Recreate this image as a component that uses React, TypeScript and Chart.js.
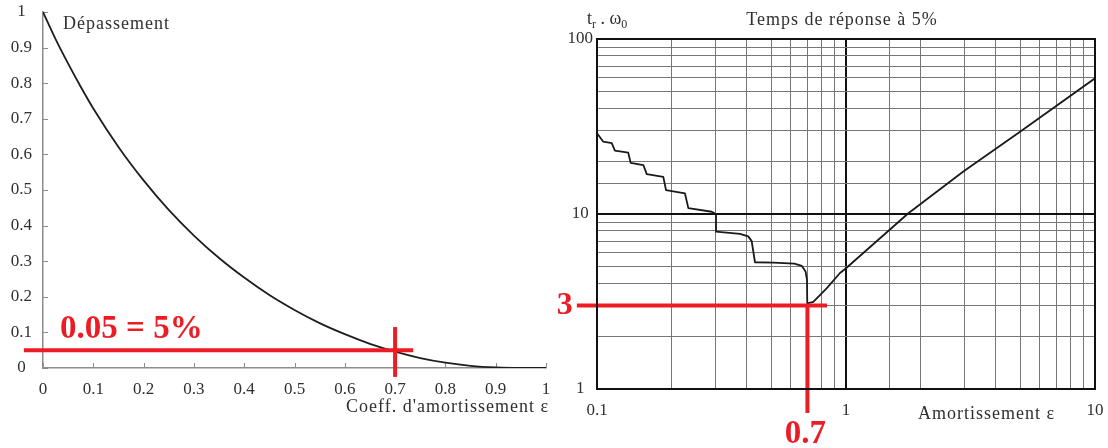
import React, { useEffect, useRef } from 'react';
import { Chart, registerables } from 'chart.js';

Chart.register(...registerables);

// ---------- Left chart: overshoot (Dépassement) vs damping ----------
const overshootDamping = [0, 0.025, 0.05, 0.075, 0.1, 0.15, 0.2, 0.25, 0.3, 0.35, 0.4, 0.45, 0.5, 0.55, 0.6, 0.65, 0.7, 0.75, 0.8, 0.85, 0.9, 0.95, 1];
const overshootValues = [1, 0.924, 0.855, 0.79, 0.729, 0.621, 0.527, 0.444, 0.372, 0.309, 0.254, 0.205, 0.163, 0.126, 0.095, 0.068, 0.046, 0.028, 0.015, 0.006, 0.0015, 0.0001, 0];
const leftTickValues = [0, 0.1, 0.2, 0.3, 0.4, 0.5, 0.6, 0.7, 0.8, 0.9, 1];

const overshootThreshold = 0.05;
const chosenDamping = 0.7;
const leftHLineX = [-0.038, 0.736];
const leftVLineY = [-0.025, 0.115];

// ---------- Right chart: response time at 5% vs damping (log-log) ----------
const responseDamping = [0.1, 0.106, 0.1146, 0.118, 0.1335, 0.1365, 0.1535, 0.1584, 0.1846, 0.1893, 0.2256, 0.2327, 0.289, 0.3006, 0.3006, 0.375, 0.405, 0.418, 0.431, 0.511, 0.62, 0.665, 0.688, 0.697, 0.699, 0.739, 0.836, 0.946, 1.0, 1.78, 2.96, 5.0, 10];
const responseTime = [28.9, 25.9, 25.4, 23.0, 22.4, 19.6, 19.05, 16.9, 16.3, 13.7, 13.1, 10.8, 10.3, 10.0, 7.93, 7.69, 7.45, 7.0, 5.3, 5.27, 5.2, 5.05, 4.7, 4.2, 3.09, 3.15, 3.76, 4.6, 4.9, 10.1, 17.5, 29.5, 59.6];
const rightXRange = [0.1, 10];
const rightYRange = [1, 100];

const chosenResponseTime = 3;
const rightHLineX = [0.083, 0.839];
const rightVLineY = [0.73, 3];

// ---------- texts ----------
const leftYTitle = 'Dépassement';
const leftXTitle = "Coeff. d'amortissement ε";
const rightTitle = 'Temps de réponse à 5%';
const rightXTitle = 'Amortissement ε';
const leftRedText = '0.05 = 5%';
const rightRedY = '3';
const rightRedX = '0.7';

const FONT = 'Liberation Serif';
const TEXT = '#303030';
const AXIS = '#8c8c8c';
const RED = '#ec1c24';

const fmt = (v: number) => String(Math.round(v * 10) / 10);
const isMajor = (v: number) => Math.abs(Math.log10(v) - Math.round(Math.log10(v))) < 1e-6;

function drawText(ctx: CanvasRenderingContext2D, txt: string, x: number, y: number, font: string, color: string, align: CanvasTextAlign, spacing = '1px') {
  ctx.save();
  ctx.font = font;
  ctx.fillStyle = color;
  ctx.textAlign = align;
  ctx.textBaseline = 'middle';
  (ctx as any).letterSpacing = spacing;
  ctx.fillText(txt, x, y);
  ctx.restore();
}

const noPadX = (h: number) => (s: any) => { s.height = h; s.paddingLeft = 0; s.paddingRight = 0; };
const noPadY = (w: number) => (s: any) => { s.width = w; s.paddingTop = 0; s.paddingBottom = 0; };

const leftDecor = {
  id: 'leftDecor',
  beforeDatasetsDraw(chart: any) {
    const { ctx, chartArea, scales } = chart;
    const { x, y } = scales;
    ctx.save();
    ctx.strokeStyle = AXIS;
    ctx.lineWidth = 1;
    ctx.beginPath();
    leftTickValues.forEach((v) => {
      const px = Math.round(x.getPixelForValue(v)) + 0.5;
      ctx.moveTo(px, chartArea.bottom);
      ctx.lineTo(px, chartArea.bottom - 5);
      const py = Math.round(y.getPixelForValue(v)) + 0.5;
      ctx.moveTo(chartArea.left, py);
      ctx.lineTo(chartArea.left + 5, py);
    });
    ctx.stroke();
    ctx.restore();
  },
  afterDraw(chart: any) {
    const { ctx, chartArea, scales } = chart;
    const { x, y } = scales;
    drawText(ctx, leftYTitle, chartArea.left + 20, 24, `18px "${FONT}"`, TEXT, 'left');
    drawText(ctx, leftXTitle, chartArea.right + 3, 407, `18px "${FONT}"`, TEXT, 'right');
    drawText(ctx, leftRedText, x.getPixelForValue(0.034), y.getPixelForValue(0.107), `bold 33px "${FONT}"`, RED, 'left', '0px');
  },
};

const rightDecor = {
  id: 'rightDecor',
  afterDatasetsDraw(chart: any) {
    const { ctx, chartArea, scales } = chart;
    const { x, y } = scales;
    ctx.save();
    ctx.strokeStyle = '#111';
    ctx.lineWidth = 2;
    ctx.strokeRect(chartArea.left, chartArea.top, chartArea.right - chartArea.left, chartArea.bottom - chartArea.top);
    ctx.restore();
    drawText(ctx, rightRedY, x.getPixelForValue(0.08), y.getPixelForValue(chosenResponseTime), `bold 32px "${FONT}"`, RED, 'right', '0px');
    drawText(ctx, rightRedX, x.getPixelForValue(chosenDamping) - 2, y.getPixelForValue(0.553), `bold 33px "${FONT}"`, RED, 'center', '0px');
  },
  afterDraw(chart: any) {
    const { ctx, chartArea } = chart;
    drawText(ctx, rightTitle, chartArea.left + 245, 20, `18px "${FONT}"`, TEXT, 'center');
    drawText(ctx, rightXTitle, chartArea.right - 177, 414, `18px "${FONT}"`, TEXT, 'left');
    // t_r . ω_0
    ctx.save();
    ctx.fillStyle = TEXT;
    ctx.textBaseline = 'alphabetic';
    ctx.textAlign = 'left';
    let cx = chartArea.left - 10;
    const base = 24;
    const big = `18px "${FONT}"`;
    const small = `12px "${FONT}"`;
    const parts: [string, string, number][] = [['t', big, 0], ['r', small, 4], [' . ', big, 0], ['ω', big, 0], ['0', small, 4]];
    parts.forEach(([t, f, dy]) => {
      ctx.font = f;
      ctx.fillText(t, cx, base + dy);
      cx += ctx.measureText(t).width;
    });
    ctx.restore();
  },
};

export default function App() {
  const leftRef = useRef<HTMLCanvasElement>(null);
  const rightRef = useRef<HTMLCanvasElement>(null);

  useEffect(() => {
    const tickFont = { family: FONT, size: 17 };

    const left = new Chart(leftRef.current!, {
      type: 'scatter',
      data: {
        datasets: [
          {
            data: overshootDamping.map((x, i) => ({ x, y: overshootValues[i] })),
            showLine: true,
            borderColor: '#1e1e1e',
            borderWidth: 1.8,
            pointRadius: 0,
            cubicInterpolationMode: 'monotone',
            order: 1,
          },
          {
            data: leftHLineX.map((x) => ({ x, y: overshootThreshold })),
            showLine: true,
            borderColor: RED,
            borderWidth: 4,
            pointRadius: 0,
            clip: false,
            order: 0,
          },
          {
            data: leftVLineY.map((y) => ({ x: chosenDamping, y })),
            showLine: true,
            borderColor: RED,
            borderWidth: 4,
            pointRadius: 0,
            clip: false,
            order: 0,
          },
        ],
      } as any,
      options: {
        animation: false,
        responsive: false,
        layout: { padding: { top: 12, right: 14, left: 0, bottom: 40 } },
        plugins: { legend: { display: false }, tooltip: { enabled: false } },
        scales: {
          x: {
            type: 'linear',
            min: 0,
            max: 1,
            afterBuildTicks: (s: any) => { s.ticks = leftTickValues.map((v) => ({ value: v })); },
            afterFit: noPadX(40),
            ticks: { callback: (v: any) => fmt(Number(v)), font: tickFont, color: TEXT, padding: 11, maxRotation: 0, autoSkip: false },
            grid: { display: false, drawTicks: false },
            border: { display: true, color: AXIS, width: 1.5 },
          },
          y: {
            type: 'linear',
            min: 0,
            max: 1,
            afterBuildTicks: (s: any) => { s.ticks = leftTickValues.map((v) => ({ value: v })); },
            afterFit: noPadY(43),
            ticks: { callback: (v: any) => fmt(Number(v)), font: tickFont, color: TEXT, padding: 11, crossAlign: 'center', autoSkip: false },
            grid: { display: false, drawTicks: false },
            border: { display: true, color: AXIS, width: 1.5 },
          },
        },
      } as any,
      plugins: [leftDecor],
    });

    const gridColor = (c: any) => (c.tick && isMajor(c.tick.value) ? '#111' : '#777');
    const gridWidth = (c: any) => (c.tick && isMajor(c.tick.value) ? 2 : 1);

    const right = new Chart(rightRef.current!, {
      type: 'scatter',
      data: {
        datasets: [
          {
            data: responseDamping.map((x, i) => ({ x, y: responseTime[i] })),
            showLine: true,
            borderColor: '#1a1a1a',
            borderWidth: 1.8,
            pointRadius: 0,
            tension: 0,
            borderJoinStyle: 'round',
            order: 1,
          },
          {
            data: rightHLineX.map((x) => ({ x, y: chosenResponseTime })),
            showLine: true,
            borderColor: RED,
            borderWidth: 4,
            pointRadius: 0,
            clip: false,
            order: 0,
          },
          {
            data: rightVLineY.map((y) => ({ x: chosenDamping, y })),
            showLine: true,
            borderColor: RED,
            borderWidth: 4,
            pointRadius: 0,
            clip: false,
            order: 0,
          },
        ],
      } as any,
      options: {
        animation: false,
        responsive: false,
        layout: { padding: { top: 39, right: 13, left: 0, bottom: 19 } },
        plugins: { legend: { display: false }, tooltip: { enabled: false } },
        scales: {
          x: {
            type: 'logarithmic',
            min: rightXRange[0],
            max: rightXRange[1],
            afterFit: noPadX(40),
            ticks: { callback: (v: any) => (isMajor(Number(v)) ? String(Number(v)) : ''), font: tickFont, color: TEXT, padding: 11, maxRotation: 0, autoSkip: false },
            grid: { color: gridColor, lineWidth: gridWidth, drawTicks: false },
            border: { display: true, color: '#111', width: 2 },
          },
          y: {
            type: 'logarithmic',
            min: rightYRange[0],
            max: rightYRange[1],
            afterFit: noPadY(57),
            ticks: { callback: (v: any) => (isMajor(Number(v)) ? String(Number(v)) : ''), font: tickFont, color: TEXT, padding: 4, crossAlign: 'center', autoSkip: false },
            grid: { color: gridColor, lineWidth: gridWidth, drawTicks: false },
            border: { display: true, color: '#111', width: 2 },
          },
        },
      } as any,
      plugins: [rightDecor],
    });

    return () => {
      left.destroy();
      right.destroy();
    };
  }, []);

  return (
    <div style={{ position: 'fixed', left: 0, top: 0, width: 1108, height: 448, background: '#fff' }}>
      <canvas ref={leftRef} width={560} height={448} style={{ position: 'absolute', left: 0, top: 0, width: 560, height: 448 }} />
      <canvas ref={rightRef} width={568} height={448} style={{ position: 'absolute', left: 540, top: 0, width: 568, height: 448 }} />
    </div>
  );
}
